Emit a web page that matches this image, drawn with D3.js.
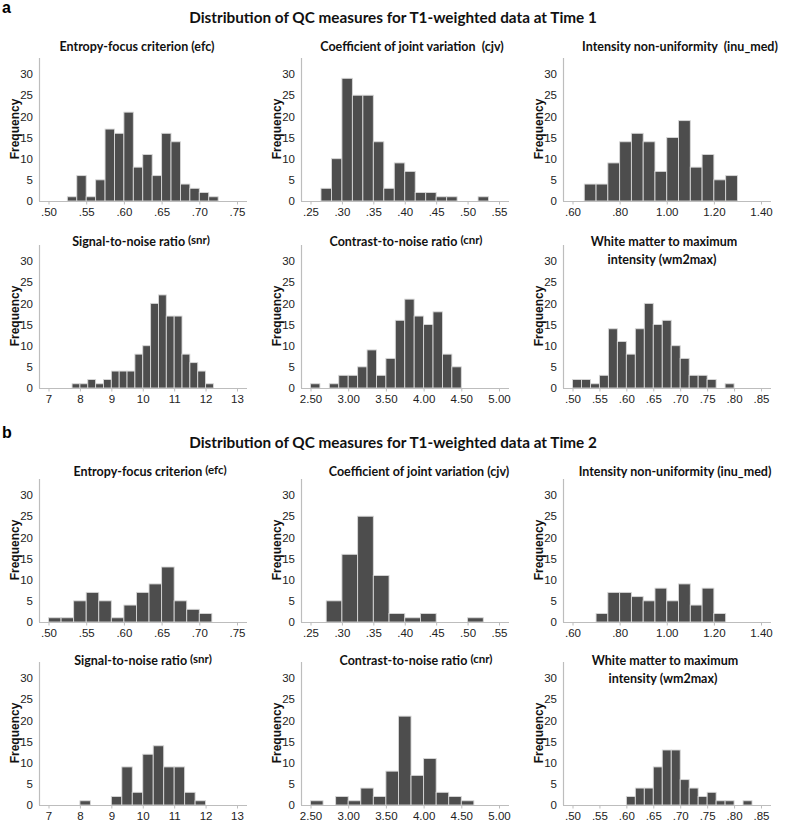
<!DOCTYPE html>
<html><head><meta charset="utf-8">
<script src="https://cdn.jsdelivr.net/npm/d3@7"></script>
<style>body{margin:0;background:#fff}</style>
</head><body>
<svg id="c" width="787" height="822"></svg>
<script>
// ---------- DATA ----------
const mainTitles = ["Distribution of QC measures for T1-weighted data at Time 1",
                    "Distribution of QC measures for T1-weighted data at Time 2"];
const sectionLabels = ["a", "b"];
const measureKeys = ["efc", "cjv", "inu", "snr", "cnr", "wm2max"];
const titlesTime1 = [["Entropy-focus criterion", "(efc)"], ["Coefficient of joint variation ", "(cjv)"],
  ["Intensity non-uniformity ", "(inu_med)"], ["Signal-to-noise ratio", "(snr)"],
  ["Contrast-to-noise ratio", "(cnr)"], ["White matter to maximum", "intensity (wm2max)"]];
const titlesTime2 = [["Entropy-focus criterion", "(efc)"], ["Coefficient of joint variation", "(cjv)"],
  ["Intensity non-uniformity", "(inu_med)"], ["Signal-to-noise ratio", "(snr)"],
  ["Contrast-to-noise ratio", "(cnr)"], ["White matter to maximum", "intensity (wm2max)"]];
const yTicks = [0, 5, 10, 15, 20, 25, 30];
const yMax = 33.8;

const ticksEfc = [0.50, 0.55, 0.60, 0.65, 0.70, 0.75];
const tickLabelsEfc = [".50", ".55", ".60", ".65", ".70", ".75"];
const ticksCjv = [0.25, 0.30, 0.35, 0.40, 0.45, 0.50, 0.55];
const tickLabelsCjv = [".25", ".30", ".35", ".40", ".45", ".50", ".55"];
const ticksInu = [0.60, 0.80, 1.00, 1.20, 1.40];
const tickLabelsInu = [".60", ".80", "1.00", "1.20", "1.40"];
const ticksSnr = [7, 8, 9, 10, 11, 12, 13];
const tickLabelsSnr = ["7", "8", "9", "10", "11", "12", "13"];
const ticksCnr = [2.5, 3.0, 3.5, 4.0, 4.5, 5.0];
const tickLabelsCnr = ["2.50", "3.00", "3.50", "4.00", "4.50", "5.00"];
const ticksWm = [0.50, 0.55, 0.60, 0.65, 0.70, 0.75, 0.80, 0.85];
const tickLabelsWm = [".50", ".55", ".60", ".65", ".70", ".75", ".80", ".85"];

// Time 1: histogram bins (first bin lower edge, bin width, counts)
const t1EfcStart = 0.525, t1EfcWidth = 0.0125;
const t1EfcCounts = [1, 6, 1, 5, 17, 16, 21, 8, 11, 6, 16, 14, 4, 3, 2, 1];
const t1CjvStart = 0.26667, t1CjvWidth = 1 / 60;
const t1CjvCounts = [3, 10, 29, 25, 25, 14, 3, 9, 7, 2, 2, 1, 1, 0, 0, 1];
const t1InuStart = 0.65, t1InuWidth = 0.05;
const t1InuCounts = [4, 4, 9, 14, 16, 14, 7, 15, 19, 8, 11, 5, 6];
const t1SnrStart = 7.75, t1SnrWidth = 0.25;
const t1SnrCounts = [1, 1, 2, 1, 2, 4, 4, 4, 8, 10, 20, 22, 17, 17, 8, 6, 4, 1];
const t1CnrStart = 2.5, t1CnrWidth = 0.125;
const t1CnrCounts = [1, 0, 1, 3, 3, 5, 9, 3, 7, 16, 21, 17, 15, 18, 8, 5];
const t1WmStart = 0.5, t1WmWidth = 1 / 60;
const t1WmCounts = [2, 2, 1, 3, 14, 11, 8, 14, 20, 15, 16, 10, 7, 3, 3, 2, 0, 1];

// Time 2
const t2EfcStart = 0.5, t2EfcWidth = 1 / 60;
const t2EfcCounts = [1, 1, 5, 7, 5, 1, 4, 7, 9, 13, 5, 3, 2];
const t2CjvStart = 0.275, t2CjvWidth = 0.025;
const t2CjvCounts = [5, 16, 25, 11, 2, 1, 2, 0, 0, 1];
const t2InuStart = 0.70, t2InuWidth = 0.05;
const t2InuCounts = [2, 7, 7, 6, 5, 8, 5, 9, 4, 8, 2];
const t2SnrStart = 8, t2SnrWidth = 1 / 3;
const t2SnrCounts = [1, 0, 0, 2, 9, 3, 12, 14, 9, 9, 3, 1];
const t2CnrStart = 2.5, t2CnrWidth = 1 / 6;
const t2CnrCounts = [1, 0, 2, 1, 4, 2, 8, 21, 7, 11, 3, 2, 1];
const t2WmStart = 0.6, t2WmWidth = 1 / 60;
const t2WmCounts = [2, 4, 4, 9, 13, 13, 6, 4, 2, 3, 1, 1, 0, 1];

// ---------- assemble ----------
const tickSets = [[ticksEfc, tickLabelsEfc], [ticksCjv, tickLabelsCjv], [ticksInu, tickLabelsInu],
                  [ticksSnr, tickLabelsSnr], [ticksCnr, tickLabelsCnr], [ticksWm, tickLabelsWm]];
const histTime = [
  [[t1EfcStart, t1EfcWidth, t1EfcCounts], [t1CjvStart, t1CjvWidth, t1CjvCounts], [t1InuStart, t1InuWidth, t1InuCounts],
   [t1SnrStart, t1SnrWidth, t1SnrCounts], [t1CnrStart, t1CnrWidth, t1CnrCounts], [t1WmStart, t1WmWidth, t1WmCounts]],
  [[t2EfcStart, t2EfcWidth, t2EfcCounts], [t2CjvStart, t2CjvWidth, t2CjvCounts], [t2InuStart, t2InuWidth, t2InuCounts],
   [t2SnrStart, t2SnrWidth, t2SnrCounts], [t2CnrStart, t2CnrWidth, t2CnrCounts], [t2WmStart, t2WmWidth, t2WmCounts]]];
const titleTime = [titlesTime1, titlesTime2];

// ---------- layout ----------
const colX = [39, 301, 563];
const rowBase = [201, 388, 622, 805];
const titleBase = [51, 246, 476, 665];
const titleDx = [[98, 111, 117, 102, 105, 101], [111, 118, 112, 104, 115, 102]];
const plotW = 208, plotH = 143;
const mainTitleY = [23, 448];
const sectionY = [13, 438];

const svg = d3.select("#c");
const TFONT = "Lato, 'Open Sans', sans-serif";
const AFONT = "'Liberation Sans', Arial, sans-serif";

for (let t = 0; t < 2; t++) {
  svg.append("text").attr("x", 2).attr("y", sectionY[t]).text(sectionLabels[t])
    .attr("font-family", AFONT).attr("font-weight", "bold").attr("font-size", 16).attr("fill", "#000");
  svg.append("text").attr("x", 393).attr("y", mainTitleY[t]).text(mainTitles[t])
    .attr("text-anchor", "middle").attr("font-family", TFONT).attr("font-weight", "bold")
    .attr("font-size", 15.3).attr("fill", "#111");

  for (let m = 0; m < 6; m++) {
    const row = t * 2 + Math.floor(m / 3), col = m % 3;
    const x0 = colX[col], base = rowBase[row];
    const [ticks, labels] = tickSets[m];
    const [start, width, counts] = histTime[t][m];
    const g = svg.append("g");

    const x = d3.scaleLinear().domain([ticks[0], ticks[ticks.length - 1]]).range([x0 + 9.5, x0 + 198]);
    const y = d3.scaleLinear().domain([0, yMax]).range([base, base - plotH]);

    // bars
    const bins = counts.map((c, i) => ({ x0: start + i * width, x1: start + (i + 1) * width, c }));
    g.selectAll("rect").data(bins.filter(d => d.c > 0)).join("rect")
      .attr("x", d => x(d.x0)).attr("width", d => x(d.x1) - x(d.x0))
      .attr("y", d => y(d.c)).attr("height", d => y(0) - y(d.c))
      .attr("fill", "#4d4d4d").attr("stroke", "#d8d8d8").attr("stroke-width", 0.9);

    // axes lines
    g.append("line").attr("x1", x0).attr("x2", x0 + plotW).attr("y1", base + 0.5).attr("y2", base + 0.5)
      .attr("stroke", "#bdbdbd").attr("stroke-width", 1.2);
    g.append("line").attr("x1", x0 + 0.5).attr("x2", x0 + 0.5).attr("y1", base).attr("y2", base - plotH)
      .attr("stroke", "#bdbdbd").attr("stroke-width", 1.2);

    const xa = g.append("g").attr("transform", `translate(0,${base + 0.5})`)
      .call(d3.axisBottom(x).tickValues(ticks).tickFormat((d, i) => labels[i]).tickSize(3).tickSizeOuter(0).tickPadding(3));
    xa.select(".domain").remove();
    xa.selectAll("line").attr("stroke", "#bdbdbd");
    xa.selectAll("text").attr("font-family", AFONT).attr("font-size", 11.5).attr("fill", "#222");

    const ya = g.append("g").attr("transform", `translate(${x0},0)`)
      .call(d3.axisLeft(y).tickValues(yTicks).tickSize(0).tickPadding(6));
    ya.select(".domain").remove();
    ya.selectAll("text").attr("font-family", AFONT).attr("font-size", 11.5).attr("fill", "#222");

    g.append("text").attr("transform", `translate(${x0 - 20},${base - 72}) rotate(-90)`)
      .attr("text-anchor", "middle").text("Frequency")
      .attr("font-family", AFONT).attr("font-weight", "bold").attr("font-size", 12).attr("fill", "#111");

    // title
    const tt = titleTime[t][m];
    const cx = x0 + titleDx[t][m];
    if (measureKeys[m] === "wm2max") {
      g.append("text").attr("x", cx).attr("y", titleBase[row]).attr("text-anchor", "middle").text(tt[0])
        .attr("font-family", TFONT).attr("font-weight", "bold").attr("font-size", 12.5).attr("fill", "#111");
      g.append("text").attr("x", cx - 2).attr("y", titleBase[row] + 18).attr("text-anchor", "middle").text(tt[1])
        .attr("font-family", TFONT).attr("font-weight", "bold").attr("font-size", 12.5).attr("fill", "#111");
    } else {
      const raised = (measureKeys[m] === "snr" || measureKeys[m] === "cnr" || (t === 1 && m === 0));
      const txt = g.append("text").attr("x", cx).attr("y", titleBase[row]).attr("text-anchor", "middle")
        .attr("font-family", TFONT).attr("font-weight", "bold").attr("font-size", 12.5).attr("fill", "#111")
        .attr("xml:space", "preserve");
      txt.append("tspan").text(tt[0] + " ");
      const s = txt.append("tspan").text(tt[1]);
      if (raised) s.attr("dy", -2).attr("font-size", 11.5);
    }
  }
}
</script>
</body></html>
